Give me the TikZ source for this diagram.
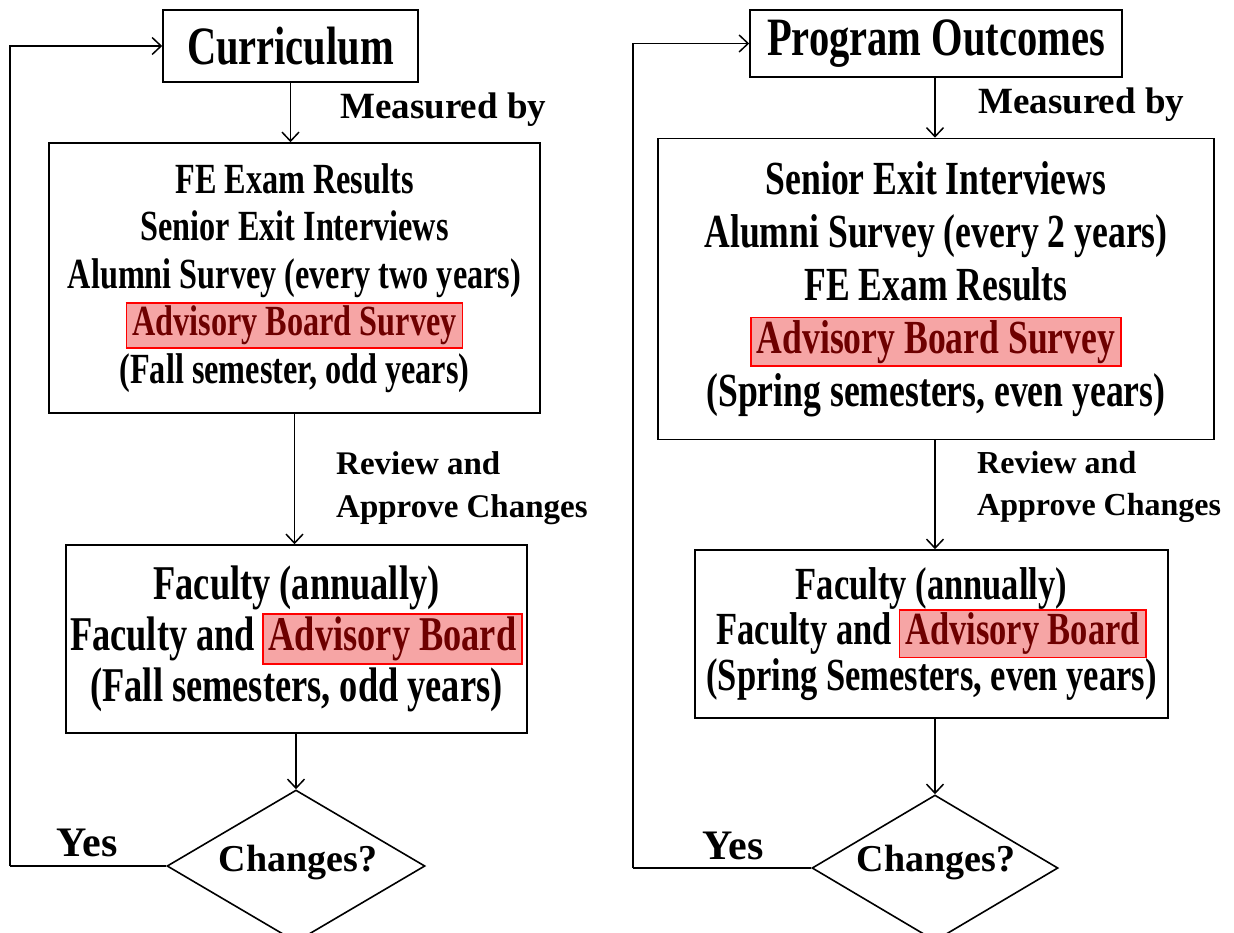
\documentclass[tikz,border=0pt]{standalone}
\usepackage{fontspec}
\setmainfont{Liberation Serif}
\newfontfamily\narrowfont{Liberation Serif}[FakeStretch=0.75]
\usetikzlibrary{shapes.geometric,arrows.meta}
\definecolor{boardred}{RGB}{110,0,0}
\definecolor{boardfill}{RGB}{246,165,165}
\newcommand{\board}[1]{\smash{\setlength{\fboxsep}{2pt}\setlength{\fboxrule}{1.6pt}%
  \fcolorbox{red}{boardfill}{\hspace{3pt}\color{boardred}#1\hspace{3pt}}}}
\newcommand{\headfont}{\narrowfont\bfseries\fontsize{54}{60}\selectfont}
\newcommand{\listfont}{\narrowfont\bfseries\fontsize{43}{47.5}\selectfont}
\newcommand{\tagfont}{\bfseries\fontsize{33}{43}\selectfont}
\begin{document}
\begin{tikzpicture}[x=1pt,y=-1pt]
    \tikzset{box/.style={draw,line width=1.6pt,inner sep=0pt,align=center},
      test/.style={draw,line width=1.6pt,shape=diamond,inner sep=0pt},
      flow/.style={line width=1.5pt,-{Straight Barb[length=9pt,width=17pt,line width=1.5pt]}},
      loop/.style={line width=1.5pt},
      tag/.style={font=\tagfont,align=left,anchor=west,inner sep=0pt}}
    \useasboundingbox (0,0) rectangle (1234,932);
    \clip (0,0) rectangle (1234,932);
    % curriculum loop
    \node [box,minimum width=255,minimum height=72,font=\headfont] (cur) at (290.5,46) {Curriculum};
    \node [box,minimum width=491,minimum height=270,font=\listfont] (curMeas) at (294.5,278)
      {FE Exam Results\\ Senior Exit Interviews\\ Alumni Survey (every two years)\\
       \board{Advisory Board Survey}\\ (Fall semester, odd years)};
    \node [box,minimum width=461,minimum height=188,font=\narrowfont\bfseries\fontsize{48.5}{51}\selectfont] (curRev) at (296.5,639)
      {Faculty (annually)\\ Faculty and\hspace{-2pt} \board{Advisory Board}\\ (Fall semesters, odd years)};
    \node [test,minimum width=258,minimum height=152] (curChg) at (296,866) {};
    \node [font=\bfseries\fontsize{38}{40}\selectfont,inner sep=0pt] (curChgTxt) at (298,862) {Changes?};
    \node [tag,font=\bfseries\fontsize{37}{40}\selectfont] (curBy) at (340,110) {Measured by};
    \node [tag] (curOk) at (336,488) {Review and\\ Approve Changes};
    \node [font=\bfseries\fontsize{42}{44}\selectfont,inner sep=0pt] (curYes) at (87,843) {Yes};
    \coordinate (curCorner) at (10,866);
    \draw [flow] (cur.south) -- (cur.south |- curMeas.north);
    \draw [flow] (curMeas.south) -- (curMeas.south |- curRev.north);
    \draw [flow] (curRev.south -| curChg.north) -- (curChg.north);
    \draw [loop] (curChg.west) -- (curCorner);
    \draw [flow] (curCorner) |- (cur.west);
    % program outcomes loop
    \node [box,minimum width=372,minimum height=67,font=\headfont] (po) at (936,43.5) {Program Outcomes};
    \node [box,minimum width=556,minimum height=301,font=\narrowfont\bfseries\fontsize{47.5}{53}\selectfont] (poMeas) at (936,289)
      {Senior Exit Interviews\\ Alumni Survey (every 2 years)\\ FE Exam Results\\
       \board{Advisory Board Survey}\\ (Spring semesters, even years)};
    \node [box,minimum width=473,minimum height=168,font=\narrowfont\bfseries\fontsize{46}{45.5}\selectfont] (poRev) at (931.5,634)
      {Faculty (annually)\\ Faculty and\hspace{-2pt} \board{Advisory Board}\\ (Spring Semesters, even years)};
    \node [test,minimum width=246,minimum height=146] (poChg) at (935,868) {};
    \node [font=\bfseries\fontsize{38}{40}\selectfont,inner sep=0pt] (poChgTxt) at (936,862) {Changes?};
    \node [tag,font=\bfseries\fontsize{37}{40}\selectfont] (poBy) at (978,105) {Measured by};
    \node [tag,font=\bfseries\fontsize{32}{42}\selectfont] (poOk) at (977,487) {Review and\\ Approve Changes};
    \node [font=\bfseries\fontsize{42}{44}\selectfont,inner sep=0pt] (poYes) at (733,846) {Yes};
    \coordinate (poCorner) at (633,868);
    \draw [flow] (poChg.north |- po.south) -- (poChg.north |- poMeas.north);
    \draw [flow] (poChg.north |- poMeas.south) -- (poChg.north |- poRev.north);
    \draw [flow] (poChg.north |- poRev.south) -- (poChg.north);
    \draw [loop] (poChg.west) -- (poCorner);
    \draw [flow] (poCorner) |- (po.west);
\end{tikzpicture}
\end{document}
